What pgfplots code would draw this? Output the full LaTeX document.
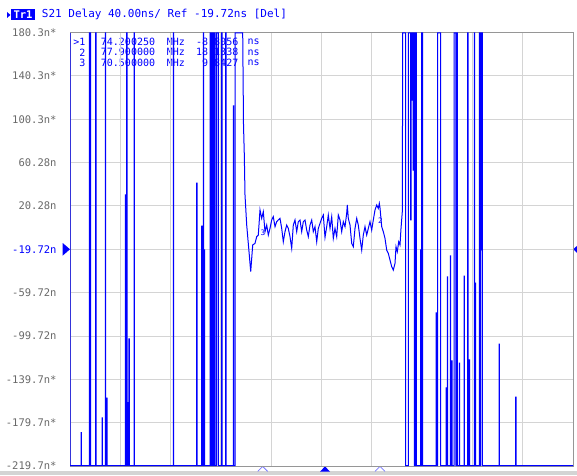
\documentclass[border=0pt]{standalone}
\usepackage{pgfplots}
\pgfplotsset{compat=1.18}
\usepackage{fontspec}
\setmainfont{DejaVu Sans Mono}
\newfontfamily\mono{DejaVu Sans Mono}
\definecolor{vnablue}{RGB}{0,0,255}
\definecolor{lblue}{RGB}{120,120,255}
\definecolor{gridc}{RGB}{212,212,212}
\definecolor{framec}{RGB}{150,150,150}
\definecolor{labc}{RGB}{105,105,105}
\begin{document}
\begin{tikzpicture}[x=1pt,y=1pt]
\path[use as bounding box] (0,0) rectangle (577,475);
% bottom gray strip
\fill[gridc] (0,0.3) rectangle (577,3.6);
% header
\fill[vnablue] (7,457) -- (10.5,460) -- (7,463) -- cycle;
\fill[vnablue] (11,455) rectangle (35,465.5);
\node[text=white,font=\fontsize{10.5}{12}\selectfont\bfseries,inner sep=0pt] at (23,460.2) {Tr1};
\node[anchor=west,text=vnablue,font=\fontsize{11}{13}\selectfont,inner sep=0pt] at (41.7,460.2) {S21 Delay 40.00ns/ Ref -19.72ns [Del]};
% marker table
\begin{scope}[every node/.style={inner sep=0pt,text=vnablue,font=\fontsize{10}{12}\selectfont}]
\node[anchor=east] at (85.5,433.3) {>1};
\node[anchor=east] at (85.5,422.7) {2};
\node[anchor=east] at (85.5,412.3) {3};
\node[anchor=west] at (100.7,433.3) {74.200250};
\node[anchor=west] at (100.7,422.7) {77.900000};
\node[anchor=west] at (100.7,412.3) {70.500000};
\node[anchor=west] at (166.7,433.3) {MHz};
\node[anchor=west] at (166.7,422.7) {MHz};
\node[anchor=west] at (166.7,412.3) {MHz};
\node[anchor=east] at (238.5,433.3) {-8.8056};
\node[anchor=east] at (238.5,422.7) {18.1338};
\node[anchor=east] at (238.5,412.3) {9.8427};
\node[anchor=west] at (247.5,433.3) {ns};
\node[anchor=west] at (247.5,422.7) {ns};
\node[anchor=west] at (247.5,412.3) {ns};
\end{scope}
% reference triangles
\fill[vnablue] (62.7,232) -- (70,225.7) -- (62.7,219.4) -- cycle;
\fill[vnablue] (577,229.2) -- (573.3,225.7) -- (577,222.2) -- cycle;
% bottom marker triangles
\draw[lblue,line width=0.8pt] (257.7,3.6) -- (262.7,8.6) -- (267.7,3.6);
\fill[vnablue] (320,3.4) -- (325,8.6) -- (330,3.4) -- cycle;
\draw[lblue,line width=0.8pt] (375,3.6) -- (380,8.6) -- (385,3.6);
\begin{axis}[
  at={(70pt,9pt)}, anchor=south west,
  scale only axis, width=503pt, height=433.5pt,
  xmin=70, xmax=573, ymin=-219.72, ymax=180.28,
  xtick={120.3,170.6,220.9,271.2,321.5,371.8,422.1,472.4,522.7},
  xticklabel={\mbox{}},
  ytick={-219.72,-179.72,-139.72,-99.72,-59.72,-19.72,20.28,60.28,100.28,140.28,180.28},
  yticklabels={-219.7n*,-179.7n*,-139.7n*,-99.72n,-59.72n,{\textcolor{vnablue}{-19.72n}},20.28n,60.28n,100.3n*,140.3n*,180.3n*},
  yticklabel style={anchor=east,inner sep=0pt,xshift=-13.3pt,text=labc,font=\fontsize{10.5}{12}\selectfont},
  major tick length=0pt,
  grid=major, grid style={gridc,line width=0.9pt},
  axis line style={framec,line width=0.9pt},
  clip=true,
]
\addplot[vnablue,line width=1pt,line join=miter,mark=none] coordinates {
(70,180) (70,-219.4)
(81,-219.4) (81,-189) (81.4,-189) (81.4,-219.4)
(89.3,-219.4) (89.3,180) (90.7,180) (90.7,-219.4)
(95.7,-219.4) (95.7,180) (96.1,180) (96.1,-219.4)
(102,-219.4) (102,-175.4) (102.4,-175.4) (102.4,-219.4)
(105.3,-219.4) (105.3,180) (105.7,180) (105.7,-219.4)
(106.7,-219.4) (106.7,-157) (107.1,-157) (107.1,-219.4)
(125.3,-219.4) (125.3,30.4) (125.7,30.4) (125.7,-219.4)
(126.6,-219.4) (126.6,180) (127,180) (127,-219.4)
(127.5,-219.4) (127.5,-161.3) (127.9,-161.3) (127.9,-219.4)
(128.9,-219.4) (128.9,-102.5) (129.3,-102.5) (129.3,-219.4)
(134,-219.4) (134,180) (134.4,180) (134.4,-219.4)
(173.3,-219.4) (173.3,180) (173.7,180) (173.7,-219.4)
(196.7,-219.4) (196.7,41.4) (197.1,41.4) (197.1,-219.4)
(201.7,-219.4) (201.7,1.7) (202.1,1.7) (202.1,-219.4)
(203.3,-219.4) (203.3,180) (203.7,180) (203.7,-219.4)
(204.3,-219.4) (204.3,-20.4) (204.7,-20.4) (204.7,-219.4)
(210,-219.4) (210,180) (211,180) (211,-219.4) (212,-219.4) (212,180) (213,180) (213,-219.4) (214,-219.4) (214,180) (215,180) (215,-219.4)
(216.7,-219.4) (216.7,180) (218.3,180) (218.3,-219.4)
(221.7,-219.4) (221.7,180) (222.1,180) (222.1,-219.4)
(225.7,-219.4) (225.7,180) (226.1,180) (226.1,-219.4)
(233.3,-219.4) (233.3,112.5) (233.7,112.5) (233.7,-219.4)
(235,-219.4) (235,180) (242.7,180)
(243.5,95.2) (244.3,67.5) (245,30.3) (246.7,2.6) (249.3,-25.1) (250.7,-40.4) (252.7,-15.8) (255,-14.3) (256.7,-8.1) (258.3,-6.6)
(260,16.5) (261.7,8.8) (263.3,14.9) (265,-3.5) (266.7,2.6) (268.3,-6.6) (270,-0.5) (271.7,7.3) (273.3,10.3) (275,1.1)
(276.7,5.7) (278.3,7.3) (280,8.8) (281.7,-0.5) (283.3,-12.8) (285,-3.5) (286.7,2.6) (288.3,-0.5) (290,-8.1) (291.7,-18.9)
(293.3,2.6) (295,7.3) (296.7,-3.5) (298.3,5.7) (300,7.3) (301.7,-3.5) (303.3,5.7) (305,7.3) (306.7,-2.0) (308.3,-8.1)
(310,2.6) (311.7,7.3) (313.3,-3.5) (315,1.1) (316.7,-12.8) (318.3,-0.5) (320,4.2) (321.7,8.8) (323.3,11.9) (325,-8.8)
(326.7,1.1) (328.3,11.9) (330,-0.5) (331.7,10.3) (333.3,-9.7) (335,-0.5) (336.7,-8.1) (338.3,11.9) (340,7.3) (341.7,-3.5)
(343.3,5.7) (345,1.1) (346.7,13.4) (347.3,21.1) (348.3,8.8) (350,2.6) (351.7,-14.3) (353.3,-17.4) (355,-0.5) (356.7,8.8)
(358.3,2.6) (360,-9.7) (361.7,-20.5) (363.3,-6.6) (365,1.1) (366.7,-6.6) (368.3,-0.5) (370,5.7) (371.7,-2.0) (373.3,7.3)
(375,16.5) (376.7,21.1) (378.3,18.0) (379.3,22.6) (380,18.4) (381.7,1.1) (383.3,-3.5) (385,-9.7) (386.7,-20.5) (388.3,-23.5)
(390,-29.7) (391.7,-35.8) (393.3,-38.9) (395,-32.7) (396,-17.4) (397.3,-22.0) (398.7,-12.8) (400,-15.8) (401,-0.5) (402.3,14.9)
(402.7,180)
(405.7,180) (405.7,-219.4) (408.3,-219.4) (408.3,180) (410.7,180) (410.7,7.3) (411.1,7.3) (411.1,180) (412.2,180) (412.2,118) (412.6,118) (412.6,180) (413.2,180) (413.2,53.4) (413.6,53.4) (413.6,180) (414.3,180) (414.3,-219.4)
(415.7,-219.4) (415.7,180) (416.3,180) (416.3,-219.4) (420.6,-219.4) (420.6,-20.4) (421,-20.4) (421,-219.4) (421.7,-219.4) (421.7,180) (422.7,180) (422.7,-219.4)
(436,-219.4) (436,-78.5) (436.4,-78.5) (436.4,-219.4) (437.7,-219.4) (437.7,180) (440.5,180) (440.5,-219.4)
(446,-219.4) (446,-147.7) (446.4,-147.7) (446.4,-219.4) (447.3,-219.4) (447.3,-45.3) (447.7,-45.3) (447.7,-219.4)
(450.3,-219.4) (450.3,-25.9) (450.7,-25.9) (450.7,-219.4) (451.7,-219.4) (451.7,-122.8) (452.1,-122.8) (452.1,-219.4)
(454,-219.4) (454,180) (455.8,180) (455.8,-219.4) (456.2,-219.4) (456.2,180) (457.3,180) (457.3,-219.4)
(459.3,-219.4) (459.3,-124.7) (459.7,-124.7) (459.7,-219.4)
(464,-219.4) (464,-44.4) (464.4,-44.4) (464.4,-219.4)
(467.7,-219.4) (467.7,180) (468.1,180) (468.1,-219.4)
(469.3,-219.4) (469.3,-121.9) (469.7,-121.9) (469.7,-219.4)
(474.3,-219.4) (474.3,180) (474.7,180) (474.7,-219.4)
(475.3,-219.4) (475.3,-50.9) (475.7,-50.9) (475.7,-219.4)
(479.3,-219.4) (479.3,180) (479.7,180) (479.7,-219.4) (480.7,-219.4) (480.7,180) (481.1,180) (481.1,-20.4) (481.5,-20.4) (481.5,180) (482.3,180) (482.3,-219.4)
(499,-219.4) (499,-107.2) (499.4,-107.2) (499.4,-219.4)
(515.7,-219.4) (515.7,-156.1) (516.1,-156.1) (516.1,-219.4)
(573,-219.4)
};
\node[text=vnablue,font=\fontsize{7.5}{8}\selectfont,inner sep=0pt] at (axis cs:263,-4.3) {3};
\node[text=vnablue,font=\fontsize{7.5}{8}\selectfont,inner sep=0pt] at (axis cs:380.5,6.3) {2};
\end{axis}
\end{tikzpicture}
\end{document}
